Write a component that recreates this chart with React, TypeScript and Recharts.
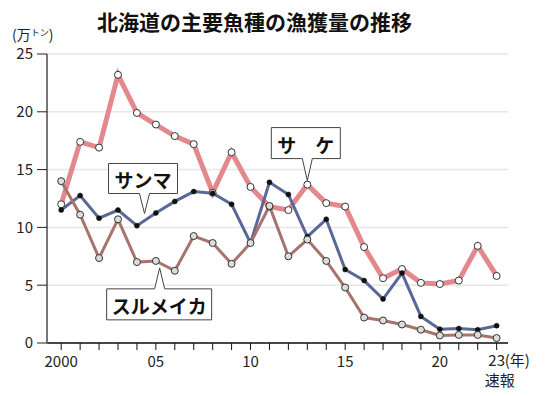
import React from 'react';
import { LineChart, Line, XAxis, YAxis, CartesianGrid, ReferenceDot } from 'recharts';

const years = [2000, 2001, 2002, 2003, 2004, 2005, 2006, 2007, 2008, 2009, 2010, 2011, 2012, 2013, 2014, 2015, 2016, 2017, 2018, 2019, 2020, 2021, 2022, 2023];
const xTickLabels = ['2000', '', '', '', '', '05', '', '', '', '', '10', '', '', '', '', '15', '', '', '', '', '20', '', '', '23'];
const yTicks = [0, 5, 10, 15, 20, 25];

// 万トン
const salmon = [12.0, 17.4, 16.9, 23.2, 19.9, 18.9, 17.9, 17.2, 13.0, 16.5, 13.5, 11.8, 11.5, 13.7, 12.1, 11.8, 8.3, 5.6, 6.4, 5.2, 5.1, 5.4, 8.4, 5.8];
const saury = [11.5, 12.75, 10.8, 11.5, 10.15, 11.25, 12.25, 13.1, 12.95, 12.0, 8.65, 13.9, 12.85, 9.2, 10.7, 6.35, 5.4, 3.8, 6.05, 2.3, 1.2, 1.25, 1.15, 1.5];
const squid = [14.0, 11.1, 7.35, 10.7, 7.0, 7.1, 6.25, 9.25, 8.65, 6.85, 8.65, 11.85, 7.5, 8.95, 7.1, 4.8, 2.2, 1.95, 1.6, 1.15, 0.65, 0.7, 0.7, 0.43];

const seriesNames = ['サ\u3000ケ', 'サンマ', 'スルメイカ'];
// callout pointer anchors (year, value)
const calloutYear = [2013, 2004.4, 2005.2];
const calloutValue = [14.05, 11.2, 6.5];

const data = years.map((y, i) => ({ year: y, salmon: salmon[i], saury: saury[i], squid: squid[i] }));

const FONT = '"Noto Sans CJK JP", "Noto Sans", sans-serif';

const XTick = (props: any) => {
  const { x, y, payload } = props;
  const idx = years.indexOf(payload.value);
  const label = xTickLabels[idx];
  if (!label) return <g />;
  const common = { fontSize: 15, fill: '#222', fontFamily: FONT };
  if (idx === years.length - 1) {
    return (
      <g>
        <text x={x} y={y + 14} textAnchor="middle" {...common}>{label}</text>
        <text x={x + 8} y={y + 14} textAnchor="start" {...common}>(年)</text>
        <text x={x + 3} y={y + 34} textAnchor="middle" {...common}>速報</text>
      </g>
    );
  }
  return <text x={x} y={y + 15} textAnchor="middle" {...common}>{label}</text>;
};

const makeCallout = (label: string, w: number, h: number, dx: number, gap: number, below: boolean) => (props: any) => {
  const { cx, cy } = props;
  const L = cx + dx;
  const R = L + w;
  let d: string;
  let T: number;
  if (!below) {
    const B = cy - gap;
    T = B - h;
    d = `M${L},${T} H${R} V${B} H${cx + 5} L${cx},${cy} L${cx - 5},${B} H${L} Z`;
  } else {
    T = cy + gap;
    const B = T + h;
    d = `M${L},${T} H${cx - 5} L${cx},${cy} L${cx + 5},${T} H${R} V${B} H${L} Z`;
  }
  return (
    <g>
      <path d={d} fill="#fff" stroke="#444" strokeWidth={1} />
      <text x={L + w / 2} y={T + h / 2 + 1} textAnchor="middle" dominantBaseline="central" fontSize={19} fontWeight="bold" fill="#111" fontFamily={FONT}>{label}</text>
    </g>
  );
};

const calloutShapes = [
  makeCallout(seriesNames[0], 69, 31, -36, 22, false),
  makeCallout(seriesNames[1], 69, 30, -36, 20, false),
  makeCallout(seriesNames[2], 105, 31, -53, 21, true),
];

export default function App() {
  return (
    <div style={{ position: 'absolute', left: 0, top: 0, width: 550, height: 396, background: '#fff', fontFamily: FONT }}>
      <div style={{ position: 'absolute', left: 0, width: 509, top: 8, textAlign: 'center', fontSize: 21, fontWeight: 'bold', color: '#111', lineHeight: '26px' }}>
        北海道の主要魚種の漁獲量の推移
      </div>
      <div style={{ position: 'absolute', left: 12, top: 27, fontSize: 14, color: '#222', lineHeight: '14px', whiteSpace: 'nowrap' }}>
        (万<span style={{ fontSize: 9, position: 'relative', top: -4 }}>トン</span>)
      </div>
      <div style={{ position: 'absolute', left: 0, top: 0 }}>
        <LineChart width={550} height={396} data={data} margin={{ top: 54, right: 42, bottom: 0, left: 0 }}>
          <CartesianGrid vertical={false} stroke="#e6e6e6" strokeWidth={1.5} />
          <XAxis
            dataKey="year"
            type="number"
            domain={[1999.25, 2023.6]}
            allowDataOverflow
            ticks={years}
            interval={0}
            height={53}
            tickSize={7}
            axisLine={{ stroke: '#111', strokeWidth: 1.5 }}
            tickLine={{ stroke: '#111', strokeWidth: 1 }}
            tick={<XTick />}
          />
          <YAxis
            type="number"
            domain={[0, 25]}
            ticks={yTicks}
            width={47}
            tickSize={10}
            tickMargin={4}
            axisLine={{ stroke: '#777', strokeWidth: 2 }}
            tickLine={{ stroke: '#222', strokeWidth: 1 }}
            tick={{ fontSize: 15, fill: '#222', fontFamily: FONT }}
          />
          <Line dataKey="salmon" stroke="#e3898d" strokeWidth={5} isAnimationActive={false}
            dot={{ r: 3.5, fill: '#fff', stroke: '#333', strokeWidth: 1 }} />
          <Line dataKey="saury" stroke="#5a6799" strokeWidth={3} isAnimationActive={false}
            dot={{ r: 2.5, fill: '#111', stroke: '#111', strokeWidth: 0.5 }} />
          <Line dataKey="squid" stroke="#a8736b" strokeWidth={3} isAnimationActive={false}
            dot={{ r: 3.5, fill: '#dcdcdc', stroke: '#333', strokeWidth: 1 }} />
          {calloutShapes.map((shape, i) => (
            <ReferenceDot key={i} x={calloutYear[i]} y={calloutValue[i]} r={0} shape={shape} />
          ))}
        </LineChart>
      </div>
    </div>
  );
}
